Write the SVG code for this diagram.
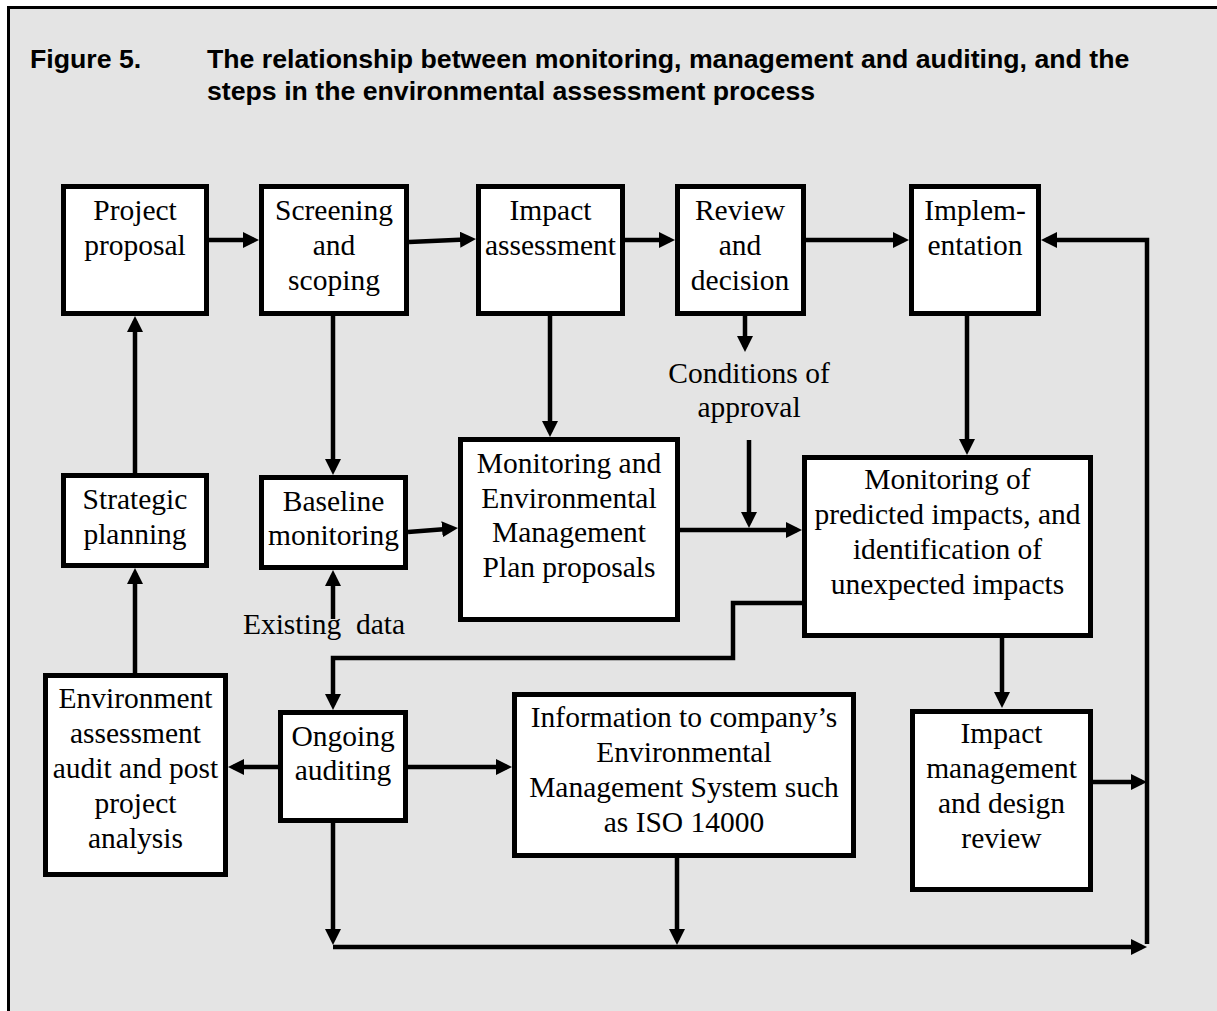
<svg xmlns="http://www.w3.org/2000/svg" width="1217" height="1011" viewBox="0 0 1217 1011">
<defs>
<style>
.frame{fill:#e4e4e4;stroke:#000;stroke-width:3}
.box{fill:#fff;stroke:#000;stroke-width:5}
.t{font-family:"Liberation Serif","Times New Roman",serif;font-size:29.5px;text-anchor:middle;fill:#000}
.h{font-family:"Liberation Sans",Arial,sans-serif;font-size:26.7px;font-weight:bold;fill:#000}
.c{fill:none;stroke:#000;stroke-width:4.5}
.a{marker-end:url(#ah)}
</style>
<marker id="ah" viewBox="0 0 16 16" markerUnits="userSpaceOnUse" markerWidth="16" markerHeight="16" refX="11" refY="8" orient="auto">
<path d="M0,0 L16,8 L0,16 Z" fill="#000"/>
</marker>
</defs>
<rect x="0" y="0" width="1217" height="1011" fill="#fff"/>
<rect class="frame" x="8.5" y="7.5" width="1230" height="1030"/>
<g id="title">
<text class="h" x="30" y="68">Figure 5.</text>
<text class="h" x="207" y="68">The relationship between monitoring, management and auditing, and the</text>
<text class="h" x="207" y="100">steps in the environmental assessment process</text>
</g>
<g id="connectors">
<path class="c a" d="M209,240 H254"/>
<path class="c a" d="M409,242 L471,239.2"/>
<path class="c a" d="M625,240 H670"/>
<path class="c a" d="M806,240 H904"/>
<path class="c a" d="M1147,944 V240 H1046"/>
<path class="c a" d="M135,473 V321"/>
<path class="c a" d="M333,316 V470"/>
<path class="c a" d="M550,316 V432"/>
<path class="c a" d="M745,316 V347"/>
<path class="c a" d="M749,440 V523"/>
<path class="c a" d="M680,530 H797"/>
<path class="c a" d="M967,316 V450"/>
<path class="c a" d="M1002,638 V703"/>
<path class="c a" d="M802,603 H733 V658 H333 V705"/>
<path class="c a" d="M408,532 L453,528.4"/>
<path class="c a" d="M333,619 V575"/>
<path class="c a" d="M135,673 V573"/>
<path class="c a" d="M278,767 H233"/>
<path class="c a" d="M408,767 H507"/>
<path class="c a" d="M333,823 V940"/>
<path class="c a" d="M677,858 V940"/>
<path class="c a" d="M333,947 H1142"/>
<path class="c a" d="M1093,782 H1142"/>
</g>
<g id="project-proposal">
<rect class="box" x="63.5" y="186.5" width="143" height="127"/>
<text class="t" x="135" y="220">Project</text>
<text class="t" x="135" y="255">proposal</text>
</g>
<g id="screening-scoping">
<rect class="box" x="261.5" y="186.5" width="145" height="127"/>
<text class="t" x="334" y="220">Screening</text>
<text class="t" x="334" y="255">and</text>
<text class="t" x="334" y="290">scoping</text>
</g>
<g id="impact-assessment">
<rect class="box" x="478.5" y="186.5" width="144" height="127"/>
<text class="t" x="550.5" y="220">Impact</text>
<text class="t" x="550.5" y="255">assessment</text>
</g>
<g id="review-decision">
<rect class="box" x="677.5" y="186.5" width="126" height="127"/>
<text class="t" x="740" y="220">Review</text>
<text class="t" x="740" y="255">and</text>
<text class="t" x="740" y="290">decision</text>
</g>
<g id="implementation">
<rect class="box" x="911.5" y="186.5" width="127" height="127"/>
<text class="t" x="975" y="220">Implem-</text>
<text class="t" x="975" y="255">entation</text>
</g>
<g id="conditions">
<text class="t" x="749" y="383">Conditions of</text>
<text class="t" x="749" y="417">approval</text>
</g>
<g id="strategic-planning">
<rect class="box" x="63.5" y="475.5" width="143" height="90"/>
<text class="t" x="135" y="509">Strategic</text>
<text class="t" x="135" y="544">planning</text>
</g>
<g id="baseline-monitoring">
<rect class="box" x="261.5" y="477.5" width="144" height="90"/>
<text class="t" x="333.5" y="511">Baseline</text>
<text class="t" x="333.5" y="545">monitoring</text>
</g>
<g id="existing-data">
<text class="t" x="324" y="634" xml:space="preserve">Existing  data</text>
</g>
<g id="monitoring-emp">
<rect class="box" x="460.5" y="439.5" width="217" height="180"/>
<text class="t" x="569" y="473">Monitoring and</text>
<text class="t" x="569" y="508">Environmental</text>
<text class="t" x="569" y="542">Management</text>
<text class="t" x="569" y="577">Plan proposals</text>
</g>
<g id="monitoring-predicted">
<rect class="box" x="804.5" y="457.5" width="286" height="178"/>
<text class="t" x="947.5" y="489">Monitoring of</text>
<text class="t" x="947.5" y="524">predicted impacts, and</text>
<text class="t" x="947.5" y="559">identification of</text>
<text class="t" x="947.5" y="594">unexpected impacts</text>
</g>
<g id="env-assessment-audit">
<rect class="box" x="45.5" y="675.5" width="180" height="199"/>
<text class="t" x="135.5" y="708">Environment</text>
<text class="t" x="135.5" y="743">assessment</text>
<text class="t" x="135.5" y="778">audit and post</text>
<text class="t" x="135.5" y="813">project</text>
<text class="t" x="135.5" y="848">analysis</text>
</g>
<g id="ongoing-auditing">
<rect class="box" x="280.5" y="712.5" width="125" height="108"/>
<text class="t" x="343" y="746">Ongoing</text>
<text class="t" x="343" y="780">auditing</text>
</g>
<g id="information-ems">
<rect class="box" x="514.5" y="694.5" width="339" height="161"/>
<text class="t" x="684" y="727">Information to company’s</text>
<text class="t" x="684" y="762">Environmental</text>
<text class="t" x="684" y="797">Management System such</text>
<text class="t" x="684" y="832">as ISO 14000</text>
</g>
<g id="impact-management">
<rect class="box" x="912.5" y="711.5" width="178" height="178"/>
<text class="t" x="1001.5" y="743">Impact</text>
<text class="t" x="1001.5" y="778">management</text>
<text class="t" x="1001.5" y="813">and design</text>
<text class="t" x="1001.5" y="848">review</text>
</g>
</svg>
